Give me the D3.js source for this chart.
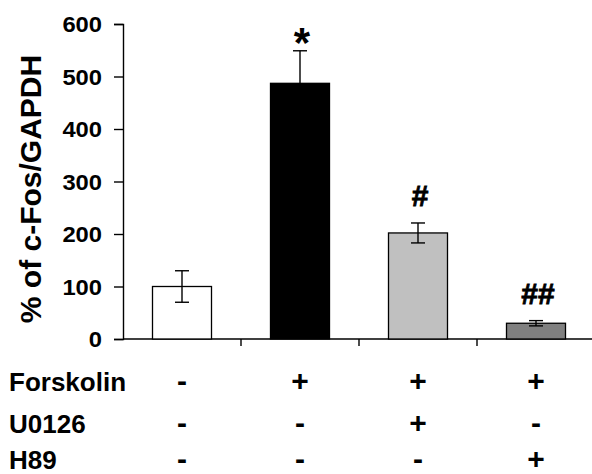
<!DOCTYPE html>
<html>
<head>
<meta charset="utf-8">
<script src="https://cdn.jsdelivr.net/npm/d3@7"></script>
<style>
  body { margin: 0; background: #fff; }
  text { font-family: "Liberation Sans", Arial, sans-serif; font-weight: bold; }
</style>
</head>
<body>
<svg id="chart"></svg>
<script>
const groups = ["ctrl", "forsk", "forsk_u0126", "forsk_h89"]
const means = [100, 487, 202, 30]
const errors = [30, 62, 19, 5]
const fills = ["#ffffff", "#000000", "#c0c0c0", "#808080"]
const marks = ["", "*", "#", "##"]
const yTicks = [0, 100, 200, 300, 400, 500, 600]

const rowNames = ["Forskolin", "U0126", "H89"]
const forskolinRow = ["-", "+", "+", "+"]
const u0126Row = ["-", "-", "+", "-"]
const h89Row = ["-", "-", "-", "+"]

const size = {width: 592, height: 474}
const svg = d3.select("#chart").attr("width", size.width).attr("height", size.height)

const x = d3.scaleBand().domain(groups).range([123, 595]).paddingInner(0.5).paddingOuter(0.25)
const y = d3.scaleLinear().domain([0, 600]).range([339, 24])

// Ось Y
const stretch = 1.08 // подписи делений чуть шире обычного
const yAxis = svg.append("g").attr("transform", "translate(123,0)")
  .call(d3.axisLeft(y).tickValues(yTicks).tickSize(9).tickPadding(10))
yAxis.select(".domain").attr("stroke-width", 1.4)
yAxis.selectAll(".tick line").attr("stroke-width", 1.4)
yAxis.selectAll(".tick text")
  .attr("font-size", 22).attr("fill", "#000")
  .attr("x", -21 / stretch).attr("dy", "0.36em")
  .attr("transform", `scale(${stretch},1)`)

// Ось X (без подписей, засечки между группами)
svg.append("line").attr("x1", 123).attr("x2", 592).attr("y1", y(0)).attr("y2", y(0))
  .attr("stroke", "#000").attr("stroke-width", 1.4)
const bounds = groups.slice(1).map(g => x(g) - x.step() * x.paddingInner() / 2)
svg.selectAll(".xtick").data(bounds).enter().append("line")
  .attr("x1", d => d).attr("x2", d => d)
  .attr("y1", y(0)).attr("y2", y(0) + 7)
  .attr("stroke", "#000").attr("stroke-width", 1.4)

// Столбцы
svg.selectAll(".bar").data(groups).enter().append("rect")
  .attr("x", d => x(d))
  .attr("y", (d, i) => y(means[i]))
  .attr("width", x.bandwidth())
  .attr("height", (d, i) => y(0) - y(means[i]))
  .attr("fill", (d, i) => fills[i])
  .attr("stroke", "#000").attr("stroke-width", 1.3)

// Погрешности
const cx = g => x(g) + x.bandwidth() / 2
const eb = svg.append("g").attr("stroke", "#000").attr("stroke-width", 1.4)
groups.forEach((g, i) => {
  const top = y(means[i] + errors[i]), bot = y(means[i] - errors[i])
  eb.append("line").attr("x1", cx(g)).attr("x2", cx(g)).attr("y1", top).attr("y2", bot)
  eb.append("line").attr("x1", cx(g) - 7).attr("x2", cx(g) + 7).attr("y1", top).attr("y2", top)
  eb.append("line").attr("x1", cx(g) - 7).attr("x2", cx(g) + 7).attr("y1", bot).attr("y2", bot)
})

// Значки значимости
svg.selectAll(".mark").data(groups).enter().append("text")
  .attr("x", d => cx(d) + 2)
  .attr("y", (d, i) => y(means[i] + errors[i]) + (i === 1 ? 6 : -17))
  .attr("text-anchor", "middle")
  .attr("font-size", (d, i) => i === 1 ? 42 : 30)
  .attr("stroke", "#000").attr("stroke-width", (d, i) => i === 1 ? 0 : 0.8)
  .text((d, i) => marks[i])

// Подпись оси Y
svg.append("text")
  .attr("transform", "translate(41,189) rotate(-90)")
  .attr("text-anchor", "middle")
  .attr("font-size", 30)
  .text("% of c-Fos/GAPDH")

// Таблица условий
const rows = [forskolinRow, u0126Row, h89Row]
const rowY = [391, 433, 469]
rows.forEach((r, k) => {
  svg.append("text").attr("x", 9).attr("y", rowY[k]).attr("font-size", 26).text(rowNames[k])
  svg.selectAll(".r" + k).data(groups).enter().append("text")
    .attr("x", d => cx(d))
    .attr("y", rowY[k])
    .attr("text-anchor", "middle")
    .attr("font-size", 30)
    .text((d, i) => r[i])
})
</script>
</body>
</html>
